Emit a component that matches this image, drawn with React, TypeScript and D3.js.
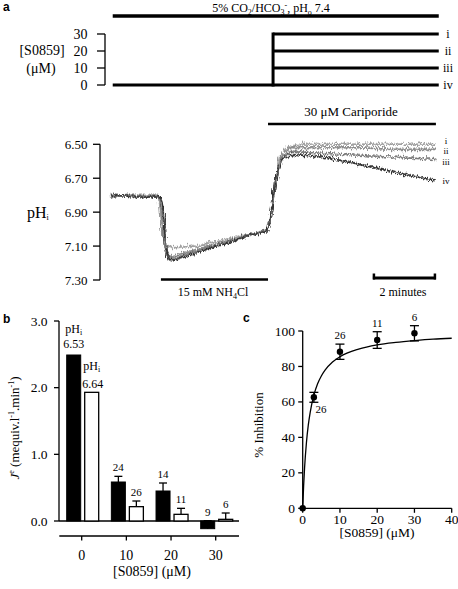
import React from "react";
import * as d3 from "d3";

// ---------- Panel a: protocol ----------
const concLevels = [30, 20, 10, 0];
const traceNames = ["i", "ii", "iii", "iv"];
const concTicks = [0, 10, 20, 30];
const pHTicks = [6.5, 6.7, 6.9, 7.1, 7.3];
const co2Period = [0.15, 10.5];
const nh4Period = [1.68, 5.08];
const cariPeriod = [5.08, 10.41];
const s0859Start = 5.24;
const scaleBarMin = [8.41, 10.41];
const traceLabelPH = [6.4805, 6.5424, 6.604, 6.716];

// ---------- Panel a: pHi traces [min, pHi] ----------
const traceI = [[0.06,6.81],[0.8,6.80],[1.55,6.80],[1.62,6.82],[1.72,7.0],[1.82,7.10],[2.1,7.11],[2.8,7.10],[3.5,7.07],[4.3,7.04],[5.08,7.01],[5.15,6.95],[5.3,6.75],[5.45,6.58],[5.7,6.52],[6.2,6.50],[7,6.50],[8,6.50],[9,6.50],[10.4,6.50]];
const traceII = [[0.06,6.80],[0.9,6.81],[1.58,6.80],[1.66,6.83],[1.76,7.05],[1.86,7.15],[2.05,7.16],[2.8,7.12],[3.6,7.08],[4.4,7.04],[5.08,7.01],[5.16,6.92],[5.32,6.72],[5.5,6.57],[5.75,6.52],[6.5,6.52],[8,6.52],[9,6.53],[10.4,6.53]];
const traceIII = [[0.06,6.81],[0.7,6.80],[1.62,6.81],[1.7,6.84],[1.8,7.08],[1.9,7.17],[2.1,7.17],[2.8,7.13],[3.6,7.08],[4.4,7.04],[5.08,7.00],[5.17,6.90],[5.33,6.70],[5.52,6.58],[5.8,6.54],[6.5,6.55],[7.5,6.56],[8.5,6.57],[9.5,6.58],[10.4,6.59]];
const traceIV = [[0.06,6.80],[1.0,6.81],[1.66,6.81],[1.74,6.86],[1.84,7.12],[1.94,7.18],[2.15,7.18],[2.8,7.14],[3.6,7.09],[4.4,7.04],[5.08,7.01],[5.18,6.90],[5.35,6.68],[5.55,6.58],[5.85,6.56],[6.5,6.57],[7,6.58],[7.5,6.60],[8,6.62],[8.5,6.64],[9,6.66],[9.5,6.68],[10,6.70],[10.4,6.71]];
const traces = [traceI, traceII, traceIII, traceIV];
const traceColors = ["#a0a0a0", "#8c8c8c", "#7a7a7a", "#333333"];

// ---------- Panel b ----------
const bConc = [0, 10, 20, 30];
const bTicks = [0, 1, 2, 3];
const jeBlack = [2.49, 0.585, 0.45, -0.115];
const jeBlackErr = [0, 0.085, 0.12, 0.12];
const jeWhite = [1.93, 0.215, 0.10, 0.025];
const jeWhiteErr = [0, 0.085, 0.09, 0.095];
const nBlack = ["", "24", "14", "9"];
const nWhite = ["", "26", "11", "6"];
const pHiBlack = "6.53";
const pHiWhite = "6.64";

// ---------- Panel c ----------
const cConc = [0, 3, 10, 20, 30];
const inhib = [0, 62.6, 88.3, 94.9, 98.7];
const inhibErr = [0, 2.8, 4.3, 4.7, 4.3];
const nC = ["", "26", "26", "11", "6"];
const cXTicks = [0, 10, 20, 30, 40];
const cYTicks = [0, 20, 40, 60, 80, 100];
const fitX = [0, 0.25, 0.5, 1, 1.5, 2, 3, 4, 5, 6, 8, 10, 15, 20, 25, 30, 35, 40];
const fitY = [0, 12.8, 22.7, 37, 46.9, 54, 63.8, 70.2, 74.6, 77.9, 82.5, 85.5, 89.8, 92.2, 93.6, 94.6, 95.4, 95.9];

const SERIF = "Liberation Serif, Times New Roman, Times, DejaVu Serif, serif";
const SANS = "Liberation Sans, Arial, Helvetica, sans-serif";

export default function App() {
  const t = d3.scaleLinear().domain([0, 10.5]).range([108, 438.75]);
  const cy = d3.scaleLinear().domain([0, 30]).range([85, 34]);
  const py = d3.scaleLinear().domain([6.5, 7.3]).range([144.3, 280]);
  const line = d3.line<number[]>().x((d) => t(d[0])).y((d) => py(d[1]));

  const bx = d3.scaleLinear().domain([0, 30]).range([81.7, 215.7]);
  const by = d3.scaleLinear().domain([0, 3]).range([521, 321]);
  const bw = 14;

  const cx = d3.scaleLinear().domain([0, 40]).range([302.7, 451.7]);
  const cyy = d3.scaleLinear().domain([0, 100]).range([508.3, 331]);
  const fitLine = d3
    .line<number>()
    .x((_, i) => cx(fitX[i]))
    .y((d) => cyy(d))
    .curve(d3.curveMonotoneX);

  const stepX = t(s0859Start);
  const serif = { fontFamily: SERIF };
  const sans = { fontFamily: SANS, fontWeight: 700 as const };

  return (
    <svg width={458} height={589} style={{ position: "absolute", left: 0, top: 0, background: "#fff", fontFamily: SERIF }}>
      <defs>
        <filter id="jitterA" x="-5%" y="-40%" width="110%" height="180%">
          <feTurbulence type="fractalNoise" baseFrequency="0.8 0.08" numOctaves={2} seed={4} result="n" />
          <feDisplacementMap in="SourceGraphic" in2="n" scale={8} xChannelSelector="R" yChannelSelector="G" />
        </filter>
        <filter id="jitterB" x="-5%" y="-40%" width="110%" height="180%">
          <feTurbulence type="fractalNoise" baseFrequency="0.9 0.1" numOctaves={2} seed={11} result="n" />
          <feDisplacementMap in="SourceGraphic" in2="n" scale={6} xChannelSelector="R" yChannelSelector="G" />
        </filter>
      </defs>
      <rect width={458} height={589} fill="#fff" />

      {/* ===== Panel a ===== */}
      <text x={3} y={11} style={sans} fontSize={12}>a</text>
      <text x={271} y={11.5} style={serif} fontSize={12} textAnchor="middle">
        5% CO<tspan fontSize={8} dy={3}>2</tspan>
        <tspan dy={-3}>/HCO</tspan>
        <tspan fontSize={8} dy={3}>3</tspan>
        <tspan fontSize={8} dy={-7}>-</tspan>
        <tspan dy={4}>, pH</tspan>
        <tspan fontSize={8} dy={3}>o</tspan>
        <tspan dy={-3}> 7.4</tspan>
      </text>
      <line x1={t(co2Period[0])} x2={t(co2Period[1])} y1={16} y2={16} stroke="#000" strokeWidth={3.5} />

      <line x1={105} x2={105} y1={cy(30)} y2={cy(0)} stroke="#000" strokeWidth={1.3} />
      {concTicks.map((c) => (
        <g key={"ct" + c}>
          <line x1={97} x2={105} y1={cy(c)} y2={cy(c)} stroke="#000" strokeWidth={1.3} />
          <text x={87.5} y={cy(c) + 5} style={serif} fontSize={14} textAnchor="end">{c}</text>
        </g>
      ))}
      <text x={42} y={55} style={serif} fontSize={14} textAnchor="middle">[S0859]</text>
      <text x={41} y={72.5} style={serif} fontSize={14} textAnchor="middle">(μM)</text>
      <line x1={t(co2Period[0])} x2={stepX} y1={cy(0)} y2={cy(0)} stroke="#000" strokeWidth={3} />
      <line x1={stepX} x2={stepX} y1={cy(0) + 1.5} y2={cy(30) - 1.5} stroke="#000" strokeWidth={3} />
      {concLevels.map((c, i) => (
        <g key={"cl" + c}>
          <line x1={stepX} x2={t(co2Period[1])} y1={cy(c)} y2={cy(c)} stroke="#000" strokeWidth={3} />
          <text x={448} y={cy(c) + 4} style={serif} fontSize={12} textAnchor="middle">{traceNames[i]}</text>
        </g>
      ))}

      <text x={351} y={116} style={serif} fontSize={13} textAnchor="middle">30 μM Cariporide</text>
      <line x1={t(cariPeriod[0])} x2={t(cariPeriod[1])} y1={124} y2={124} stroke="#000" strokeWidth={2.5} />

      <line x1={100} x2={100} y1={py(6.5)} y2={py(7.3)} stroke="#000" strokeWidth={1.3} />
      {pHTicks.map((p) => (
        <g key={"pt" + p}>
          <line x1={93} x2={100} y1={py(p)} y2={py(p)} stroke="#000" strokeWidth={1.3} />
          <text x={87.5} y={py(p) + 4.5} style={serif} fontSize={13} textAnchor="end">{p.toFixed(2)}</text>
        </g>
      ))}
      <text x={27} y={218} style={serif} fontSize={16}>
        pH<tspan fontSize={8} dy={2}>i</tspan>
      </text>

      {/* traces */}
      <g filter="url(#jitterA)">
        {traces.map((tr, i) => (
          <path key={"tra" + i} d={line(tr) || ""} fill="none" stroke={traceColors[i]} strokeWidth={1.6} />
        ))}
      </g>
      <g filter="url(#jitterB)" opacity={0.8}>
        {traces.map((tr, i) => (
          <path key={"trb" + i} d={line(tr) || ""} fill="none" stroke={traceColors[i]} strokeWidth={1.2} />
        ))}
      </g>
      {traceNames.map((n, i) => (
        <text key={"tn" + n} x={446} y={py(traceLabelPH[i]) + 3} style={serif} fontSize={9} textAnchor="middle">{n}</text>
      ))}

      <line x1={t(nh4Period[0])} x2={t(nh4Period[1])} y1={279.5} y2={279.5} stroke="#000" strokeWidth={2.5} />
      <text x={213} y={296} style={serif} fontSize={12} textAnchor="middle">
        15 mM NH<tspan fontSize={8} dy={3}>4</tspan>
        <tspan dy={-3}>Cl</tspan>
      </text>

      <line x1={t(scaleBarMin[0])} x2={t(scaleBarMin[1])} y1={278} y2={278} stroke="#000" strokeWidth={3} />
      <line x1={t(scaleBarMin[0]) + 1} x2={t(scaleBarMin[0]) + 1} y1={273.5} y2={279.5} stroke="#000" strokeWidth={2.5} />
      <line x1={t(scaleBarMin[1]) - 1} x2={t(scaleBarMin[1]) - 1} y1={273.5} y2={279.5} stroke="#000" strokeWidth={2.5} />
      <text x={403} y={296} style={serif} fontSize={12} textAnchor="middle">2 minutes</text>

      {/* ===== Panel b ===== */}
      <text x={3} y={323} style={sans} fontSize={12}>b</text>
      <line x1={59} x2={59} y1={by(3)} y2={by(0)} stroke="#000" strokeWidth={1.3} />
      {bTicks.map((v) => (
        <g key={"bt" + v}>
          <line x1={54} x2={59} y1={by(v)} y2={by(v)} stroke="#000" strokeWidth={1.3} />
          <text x={47.5} y={by(v) + 4.5} style={serif} fontSize={13.5} textAnchor="end">{v.toFixed(1)}</text>
        </g>
      ))}
      <line x1={59} x2={239} y1={by(0)} y2={by(0)} stroke="#000" strokeWidth={1.3} />
      {bConc.map((c, i) => {
        const xB = bx(c) - bw - 1;
        const xW = bx(c) + 3;
        const yB0 = Math.min(by(jeBlack[i]), by(0));
        const hB = Math.abs(by(jeBlack[i]) - by(0));
        const hW = Math.abs(by(jeWhite[i]) - by(0));
        const ebB = by(jeBlack[i] + jeBlackErr[i]);
        const ebW = by(jeWhite[i] + jeWhiteErr[i]);
        const cB = xB + bw / 2;
        const cW = xW + bw / 2;
        return (
          <g key={"bar" + c}>
            {jeBlackErr[i] > 0 && (
              <g stroke="#000" strokeWidth={1.3}>
                <line x1={cB} x2={cB} y1={by(jeBlack[i])} y2={ebB} />
                <line x1={cB - 4} x2={cB + 4} y1={ebB} y2={ebB} />
              </g>
            )}
            {jeWhiteErr[i] > 0 && (
              <g stroke="#000" strokeWidth={1.3}>
                <line x1={cW} x2={cW} y1={by(jeWhite[i])} y2={ebW} />
                <line x1={cW - 4} x2={cW + 4} y1={ebW} y2={ebW} />
              </g>
            )}
            <rect x={xB} y={yB0} width={bw} height={hB} fill="#000" stroke="#000" strokeWidth={1} />
            <rect x={xW} y={by(jeWhite[i])} width={bw} height={hW} fill="#fff" stroke="#000" strokeWidth={1.3} />
            {nBlack[i] && (
              <text x={cB} y={Math.min(ebB, by(0)) - 5} style={serif} fontSize={11} textAnchor="middle">{nBlack[i]}</text>
            )}
            {nWhite[i] && (
              <text x={cW} y={ebW - 5} style={serif} fontSize={11} textAnchor="middle">{nWhite[i]}</text>
            )}
          </g>
        );
      })}
      <text x={bx(0) - bw / 2 - 1} y={333} style={serif} fontSize={12} textAnchor="middle">
        pH<tspan fontSize={8} dy={2}>i</tspan>
      </text>
      <text x={bx(0) - bw / 2 - 1} y={348} style={serif} fontSize={12} textAnchor="middle">{pHiBlack}</text>
      <text x={bx(0) + 3 + bw / 2} y={370} style={serif} fontSize={12} textAnchor="middle">
        pH<tspan fontSize={8} dy={2}>i</tspan>
      </text>
      <text x={bx(0) + 3 + bw / 2 + 1} y={388} style={serif} fontSize={12} textAnchor="middle">{pHiWhite}</text>

      <line x1={59.3} x2={239} y1={536} y2={536} stroke="#000" strokeWidth={1.3} />
      {bConc.map((c) => (
        <g key={"bxt" + c}>
          <line x1={bx(c)} x2={bx(c)} y1={536} y2={540.5} stroke="#000" strokeWidth={1.3} />
          <text x={bx(c)} y={560} style={serif} fontSize={14} textAnchor="middle">{c}</text>
        </g>
      ))}
      <text x={152} y={575.5} style={serif} fontSize={14} textAnchor="middle">[S0859] (μM)</text>
      <text transform="translate(19,428) rotate(-90)" style={serif} fontSize={13} textAnchor="middle">
        <tspan fontStyle="italic">J</tspan>
        <tspan fontSize={8} dy={-5}>e</tspan>
        <tspan dy={5}> (mequiv.l</tspan>
        <tspan fontSize={8} dy={-5}>-1</tspan>
        <tspan dy={5}>.min</tspan>
        <tspan fontSize={8} dy={-5}>-1</tspan>
        <tspan dy={5}>)</tspan>
      </text>

      {/* ===== Panel c ===== */}
      <text x={243} y={322} style={sans} fontSize={12}>c</text>
      <line x1={cx(0)} x2={cx(0)} y1={cyy(100)} y2={cyy(0)} stroke="#000" strokeWidth={1.3} />
      <line x1={cx(0)} x2={cx(40)} y1={cyy(0)} y2={cyy(0)} stroke="#000" strokeWidth={1.3} />
      {cYTicks.map((v) => (
        <g key={"cyt" + v}>
          <line x1={cx(0) - 4.5} x2={cx(0)} y1={cyy(v)} y2={cyy(v)} stroke="#000" strokeWidth={1.3} />
          <text x={295} y={cyy(v) + 4.5} style={serif} fontSize={13.5} textAnchor="end">{v}</text>
        </g>
      ))}
      {cXTicks.map((v) => (
        <g key={"cxt" + v}>
          <line x1={cx(v)} x2={cx(v)} y1={cyy(0)} y2={cyy(0) + 4.5} stroke="#000" strokeWidth={1.3} />
          <text x={cx(v)} y={523.5} style={serif} fontSize={13.5} textAnchor="middle">{v}</text>
        </g>
      ))}
      <text x={377} y={537} style={serif} fontSize={13.5} textAnchor="middle">[S0859] (μM)</text>
      <text transform="translate(263,425) rotate(-90)" style={serif} fontSize={13} textAnchor="middle">% Inhibition</text>
      <path d={fitLine(fitY) || ""} fill="none" stroke="#000" strokeWidth={1.3} />
      {cConc.map((c, i) => {
        const x = cx(c);
        const y = cyy(inhib[i]);
        const yt = cyy(inhib[i] + inhibErr[i]);
        const yb = cyy(inhib[i] - inhibErr[i]);
        return (
          <g key={"cp" + c}>
            {inhibErr[i] > 0 && (
              <g stroke="#000" strokeWidth={1.3}>
                <line x1={x} x2={x} y1={yt} y2={yb} />
                <line x1={x - 4.5} x2={x + 4.5} y1={yt} y2={yt} />
                <line x1={x - 4.5} x2={x + 4.5} y1={yb} y2={yb} />
              </g>
            )}
            <circle cx={x} cy={y} r={3.2} fill="#000" />
            {nC[i] && i === 1 && (
              <text x={x + 7} y={y + 16} style={serif} fontSize={11} textAnchor="middle">{nC[i]}</text>
            )}
            {nC[i] && i > 1 && (
              <text x={x} y={yt - 5} style={serif} fontSize={11} textAnchor="middle">{nC[i]}</text>
            )}
          </g>
        );
      })}
    </svg>
  );
}
